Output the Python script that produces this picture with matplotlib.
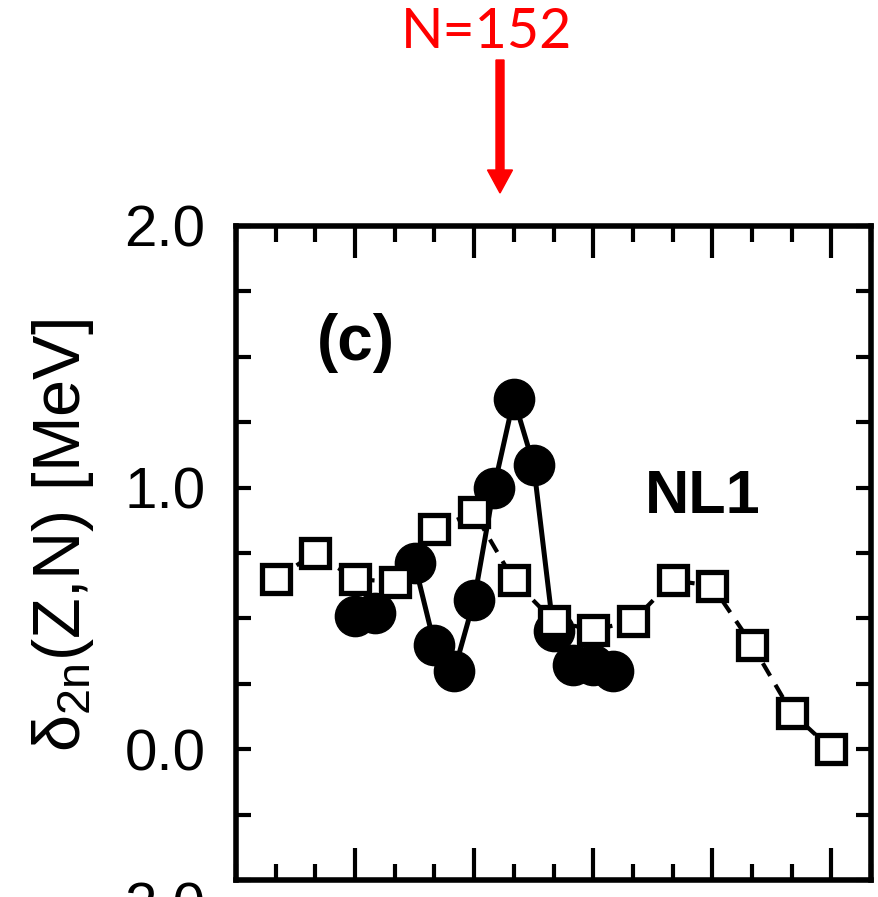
import matplotlib
matplotlib.use('Agg')
import matplotlib.pyplot as plt
from matplotlib import rcParams
from matplotlib.patches import FancyArrow
from matplotlib.ticker import MultipleLocator, NullFormatter, FixedLocator

rcParams['font.family'] = ['Liberation Sans', 'DejaVu Sans']
rcParams['mathtext.fontset'] = 'custom'
rcParams['mathtext.rm'] = 'Liberation Sans'
rcParams['mathtext.it'] = 'Liberation Sans:italic'

# 数据：NL1 计算（空心方块）和实验值（实心圆）
n_calc = [140, 142, 144, 146, 148, 150, 152, 154, 156, 158, 160, 162, 164, 166, 168]
d2n_calc = [0.65, 0.75, 0.65, 0.64, 0.84, 0.905, 0.645, 0.49, 0.455, 0.49, 0.645, 0.625, 0.40, 0.14, 0.0]

n_exp = [144, 145, 147, 148, 149, 150, 151, 152, 153, 154, 155, 156, 157]
d2n_exp = [0.51, 0.52, 0.71, 0.40, 0.30, 0.57, 1.00, 1.34, 1.085, 0.45, 0.32, 0.32, 0.30]

ylabels_shown = [0.0, 1.0, 2.0]

fig = plt.figure(figsize=(8.79, 8.97), dpi=100)
ax = fig.add_axes([236 / 879, 17 / 897, 635 / 879, 654 / 897])

# 实验值
ax.plot(n_exp, d2n_exp, color='black', linewidth=3.6, marker='o',
        markersize=29, markerfacecolor='black', markeredgecolor='black', zorder=2)
# 计算值
ax.plot(n_calc, d2n_calc, color='black', linewidth=3.0, linestyle=(0, (3.5, 2.5)),
        marker='s', markersize=20.5, markerfacecolor='white',
        markeredgecolor='black', markeredgewidth=3.8, zorder=3)

ax.set_xlim(138, 170)
ax.set_ylim(-0.5, 2.0)

# 刻度
ax.xaxis.set_major_locator(FixedLocator([144, 150, 156, 162, 168]))
ax.xaxis.set_minor_locator(MultipleLocator(2))
ax.xaxis.set_major_formatter(NullFormatter())
ax.yaxis.set_major_locator(FixedLocator(ylabels_shown))
ax.yaxis.set_minor_locator(MultipleLocator(0.25))
ax.yaxis.set_major_formatter(lambda v, p: '%.1f' % v)

ax.tick_params(axis='both', which='both', direction='in', top=True, right=True, width=3)
ax.tick_params(axis='x', which='major', length=23)
ax.tick_params(axis='x', which='minor', length=11.5)
ax.tick_params(axis='y', which='both', length=11)
ax.tick_params(axis='y', which='major', labelsize=42, pad=22)

for s in ax.spines.values():
    s.set_linewidth(4)

ax.set_ylabel(r'δ$_{\rm 2n}$(Z,N) [MeV]', fontsize=48)
ax.yaxis.set_label_coords(-0.22, 0.527)

ax.text(0.189, 0.821, '(c)', fontsize=46, fontweight='bold', ha='center', va='center',
        transform=ax.transAxes)
ax.text(0.735, 0.585, 'NL1', fontsize=44, fontweight='bold', ha='center', va='center',
        transform=ax.transAxes)

# 下一幅子图被裁掉的刻度标签
fig.text(205 / 879, -11 / 897, '2.0', fontsize=42, ha='right', va='center')

# 红色标注
fig.text(487 / 879, (897 - 32) / 897, 'N=152', fontsize=40, color='red',
         family=['Lato', 'DejaVu Sans'], ha='center', va='center')
arrow = FancyArrow(5.0, (897 - 60) / 100, 0, -1.33, width=0.08, head_width=0.25,
                   head_length=0.23, length_includes_head=True, color='red',
                   transform=fig.dpi_scale_trans)
fig.add_artist(arrow)

fig.savefig('out.png', dpi=100)
